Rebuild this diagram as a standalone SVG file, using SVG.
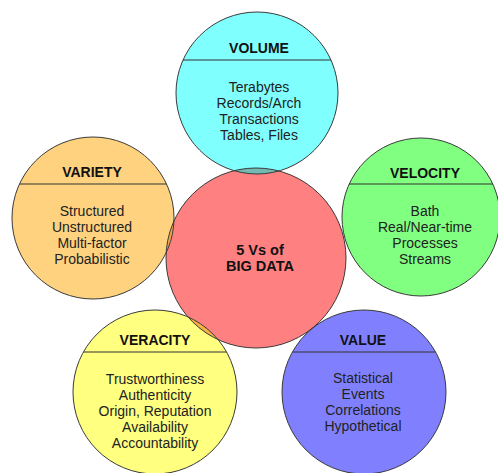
<svg xmlns="http://www.w3.org/2000/svg" width="498" height="473" viewBox="0 0 498 473">
  <style>
    .ring { fill: none; stroke: #3a3a3a; stroke-width: 1; }
    .rule { stroke: #333; stroke-width: 1.2; }
    .title { font-family: "Liberation Sans", Arial, sans-serif; font-weight: bold; font-size: 14px; fill: #111; text-anchor: middle; }
    .body { font-family: "Liberation Sans", Arial, sans-serif; font-size: 14px; fill: #222; text-anchor: middle; }
    .core { font-family: "Liberation Sans", Arial, sans-serif; font-weight: bold; font-size: 14.5px; fill: #111; text-anchor: middle; }
  </style>
  <defs>
    <clipPath id="c-core"><circle cx="256" cy="258" r="90"/></clipPath>
    <clipPath id="c-volume"><circle cx="257" cy="93" r="81"/></clipPath>
    <clipPath id="c-variety"><circle cx="93" cy="218" r="81"/></clipPath>
    <clipPath id="c-velocity"><circle cx="421" cy="217" r="79"/></clipPath>
    <clipPath id="c-veracity"><circle cx="155" cy="392" r="82"/></clipPath>
    <clipPath id="c-value"><circle cx="364" cy="392" r="82"/></clipPath>
  </defs>

  <!-- fills -->
  <g id="core-fill"><circle cx="256" cy="258" r="90" fill="#ff8080"/></g>
  <g id="fills">
    <circle cx="257" cy="93" r="81" fill="#80ffff"/>
    <circle cx="93" cy="218" r="81" fill="#ffd280"/>
    <circle cx="421" cy="217" r="79" fill="#80ff80"/>
    <circle cx="155" cy="392" r="82" fill="#ffff80"/>
    <circle cx="364" cy="392" r="82" fill="#8080ff"/>
  </g>

  <!-- lens-shaped overlaps with the centre circle -->
  <g id="overlaps" clip-path="url(#c-core)">
    <circle cx="257" cy="93" r="81" fill="#74b9b2"/>
    <circle cx="93" cy="218" r="81" fill="#f4a545"/>
    <circle cx="421" cy="217" r="79" fill="#7cc044"/>
    <circle cx="155" cy="392" r="82" fill="#f8b045"/>
    <circle cx="364" cy="392" r="82" fill="#7040d0"/>
  </g>

  <!-- node: centre -->
  <g id="node-core">
    <circle class="ring" cx="256" cy="258" r="90"/>
    <text class="core" x="260" y="255">5 Vs of</text>
    <text class="core" x="260" y="271">BIG DATA</text>
  </g>

  <!-- node: volume -->
  <g id="node-volume">
    <circle class="ring" cx="257" cy="93" r="81"/>
    <line class="rule" x1="150" y1="60" x2="370" y2="60" clip-path="url(#c-volume)"/>
    <text class="title" x="259" y="53">VOLUME</text>
    <text class="body" x="259" y="92">Terabytes</text>
    <text class="body" x="259" y="108">Records/Arch</text>
    <text class="body" x="259" y="124">Transactions</text>
    <text class="body" x="259" y="140">Tables, Files</text>
  </g>

  <!-- node: variety -->
  <g id="node-variety">
    <circle class="ring" cx="93" cy="218" r="81"/>
    <line class="rule" x1="0" y1="184" x2="190" y2="184" clip-path="url(#c-variety)"/>
    <text class="title" x="92" y="177">VARIETY</text>
    <text class="body" x="92" y="216">Structured</text>
    <text class="body" x="92" y="232">Unstructured</text>
    <text class="body" x="92" y="248">Multi-factor</text>
    <text class="body" x="92" y="264">Probabilistic</text>
  </g>

  <!-- node: velocity -->
  <g id="node-velocity">
    <circle class="ring" cx="421" cy="217" r="79"/>
    <line class="rule" x1="330" y1="184" x2="498" y2="184" clip-path="url(#c-velocity)"/>
    <text class="title" x="425" y="178">VELOCITY</text>
    <text class="body" x="425" y="216">Bath</text>
    <text class="body" x="425" y="232">Real/Near-time</text>
    <text class="body" x="425" y="248">Processes</text>
    <text class="body" x="425" y="264">Streams</text>
  </g>

  <!-- node: veracity -->
  <g id="node-veracity">
    <circle class="ring" cx="155" cy="392" r="82"/>
    <line class="rule" x1="60" y1="352" x2="250" y2="352" clip-path="url(#c-veracity)"/>
    <text class="title" x="155" y="345">VERACITY</text>
    <text class="body" x="155" y="384">Trustworthiness</text>
    <text class="body" x="155" y="400">Authenticity</text>
    <text class="body" x="155" y="416">Origin, Reputation</text>
    <text class="body" x="155" y="432">Availability</text>
    <text class="body" x="155" y="448">Accountability</text>
  </g>

  <!-- node: value -->
  <g id="node-value">
    <circle class="ring" cx="364" cy="392" r="82"/>
    <line class="rule" x1="270" y1="352" x2="460" y2="352" clip-path="url(#c-value)"/>
    <text class="title" x="363" y="345">VALUE</text>
    <text class="body" x="363" y="383">Statistical</text>
    <text class="body" x="363" y="399">Events</text>
    <text class="body" x="363" y="415">Correlations</text>
    <text class="body" x="363" y="431">Hypothetical</text>
  </g>

  <!-- no connectors in this figure -->
  <g id="connectors"/>
</svg>
